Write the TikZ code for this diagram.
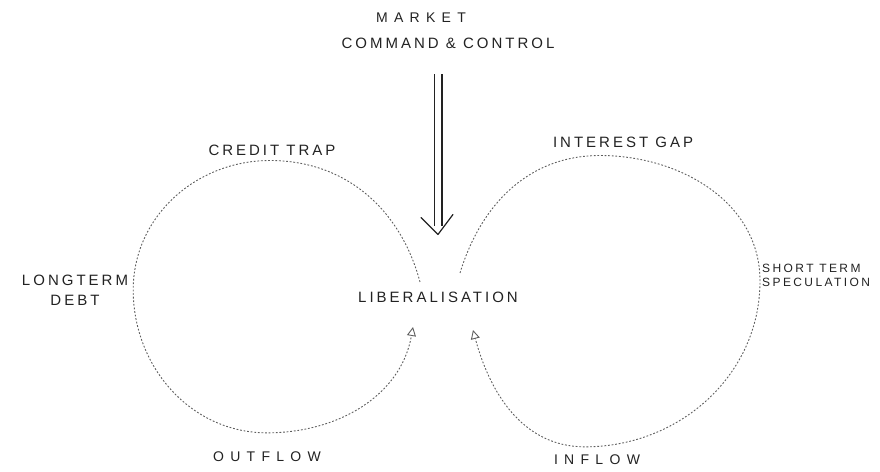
\documentclass[tikz,border=0pt]{standalone}
\usepackage{fontspec}
\newfontfamily\handfont[LetterSpace=20]{Liberation Sans}
\newfontfamily\handwide[LetterSpace=45]{Liberation Sans}
\usepackage{tikz}
\usetikzlibrary{arrows.meta,positioning,calc}
\definecolor{ink}{HTML}{222222}
\definecolor{pencil}{HTML}{5E5E5E}
\tikzset{
  lab/.style={font=\handfont\fontsize{15}{20}\selectfont,text=ink,inner sep=0pt,align=center},
  wlab/.style={lab,font=\handwide\fontsize{14}{20}\selectfont},
  slab/.style={lab,font=\handfont\fontsize{12}{14}\selectfont,align=left},
  larr/.style={draw=pencil,line width=0.9pt,dash pattern=on 1.8pt off 1.8pt,-{Triangle[open,length=9pt,width=9pt]}},
  barr/.style={draw=ink,line width=1.1pt,double,double distance=6.8pt},
  bhead/.style={draw=ink,line width=1.2pt,line cap=round,line join=round},
}
\begin{document}
\begin{tikzpicture}[x=1pt,y=1pt]
\useasboundingbox (0,0) rectangle (880,471);
\node[wlab] (market) at (421,453) {MARKET};
\node[lab,below=15pt of market,xshift=27pt] (cmd) {COMMAND \& CONTROL};
\node[lab] (lib) at (438,174) {LIBERALISATION};
\node[lab] (credit) at (272,321) {CREDIT TRAP};
\node[lab] (interest) at (623,329) {INTEREST GAP};
\node[lab] (debt) at (75,181) {LONGTERM\\DEBT};
\node[slab,anchor=west] (spec) at (762,196) {SHORT TERM\\SPECULATION};
\node[wlab] (outflow) at (267,14) {OUTFLOW};
\node[wlab] (inflow) at (597,11) {INFLOW};
% the two loops leave and re-enter liberalisation
\coordinate (l0) at ($(lib)+(-18,15)$);
\coordinate (l1) at ($(lib)+(-25,-30)$);
\coordinate (r0) at ($(lib)+(22,24)$);
\coordinate (r1) at ($(lib)+(35,-33)$);
\draw[larr] (l0) to[out=105,in=0] ([xshift=-2pt,yshift=-5pt]credit.south)
  to[out=180,in=90] ([xshift=5pt]debt.east)
  to[out=270,in=180] ([yshift=19pt]outflow.north)
  to[out=0,in=260] (l1);
\draw[larr] (r0) to[out=73,in=180] ([xshift=-23pt,yshift=-8pt]interest.south)
  to[out=0,in=90] ([xshift=-2pt,yshift=-6pt]spec.west)
  to[out=270,in=0] ([xshift=-12pt,yshift=8pt]inflow.north)
  to[out=180,in=285] (r1);
% pressure from above
\coordinate[above=57pt of lib.north] (tip);
\draw[barr,shorten <=25pt,shorten >=8pt] (cmd.south -| tip) -- (tip);
\draw[bhead] ([shift={(-17pt,17pt)}]tip) -- (tip) -- ([shift={(15pt,20pt)}]tip);
\end{tikzpicture}
\end{document}
